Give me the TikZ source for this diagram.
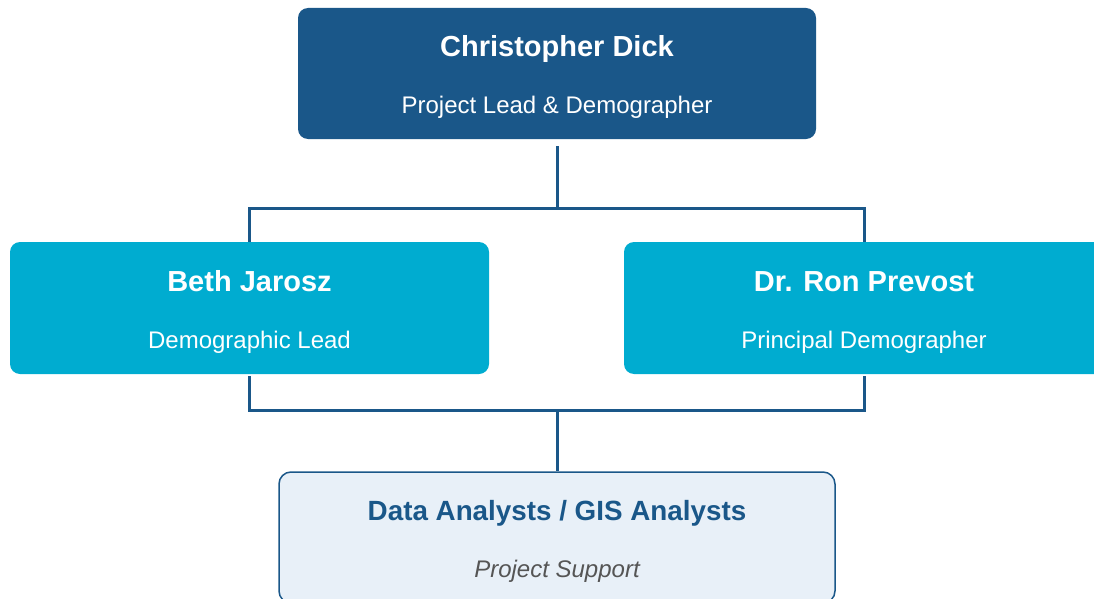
\documentclass[tikz,border=0pt]{standalone}
\usepackage{fontspec}
\setmainfont{Liberation Sans}
\usepackage{tikz}

\definecolor{leadblue}{HTML}{1A5789}
\definecolor{teamcyan}{HTML}{00ACD0}
\definecolor{staffbg}{HTML}{E8F0F8}
\definecolor{subgray}{HTML}{555555}

\tikzset{
  person/.style={rectangle, rounded corners=10pt, inner sep=0pt, align=center,
    text=white, font=\fontsize{24}{24}\selectfont},
  link/.style={draw=leadblue, line width=3pt}
}
\newcommand{\boxname}[1]{\rule{0pt}{28.5pt}{\fontsize{29}{29}\selectfont\bfseries #1}}

\begin{document}
\begin{tikzpicture}[x=1pt, y=-1pt]
        \useasboundingbox (0,0) rectangle (1094,599);
        \clip (0,0) rectangle (1094,599);

        % Define the boxes
        \node[person, fill=leadblue, minimum width=518pt, minimum height=131pt] (lead) at (557,73.5)
          {\boxname{Christopher Dick}\\[33pt]Project Lead \& Demographer};
        \node[person, fill=teamcyan, minimum width=479pt, minimum height=132pt] (beth) at (249.5,308)
          {\boxname{Beth Jarosz}\\[33pt]Demographic Lead};
        \node[person, fill=teamcyan, minimum width=480pt, minimum height=132pt] (ron) at (864,308)
          {\boxname{Dr. Ron Prevost}\\[33pt]Principal Demographer};
        \node[person, fill=staffbg, draw=leadblue, line width=1.5pt, rounded corners=12pt,
          minimum width=556pt, minimum height=131pt] (staff) at (557,537.5)
          {\rule{0pt}{28.5pt}{\fontsize{27.8}{27.8}\selectfont\bfseries\color{leadblue}Data Analysts / GIS Analysts}\\[33pt]{\color{subgray}\itshape Project Support}};

        % Define the junctions
        \coordinate (split) at (557,208);
        \coordinate (merge) at (557,410);

        % Define the edges
        \draw[link, shorten <=7pt] (lead.south) -- (split);
        \draw[link] (split) -| (beth.north);
        \draw[link] (split) -| (ron.north);
        \draw[link, shorten <=2pt] (beth.south) |- (merge);
        \draw[link, shorten <=2pt] (ron.south) |- (merge);
        \draw[link] (merge) -- (staff.north);
    \end{tikzpicture}
\end{document}
